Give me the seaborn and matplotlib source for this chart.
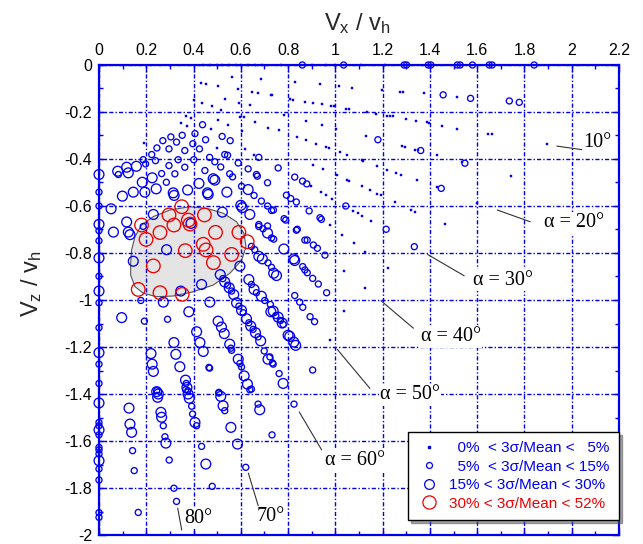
import matplotlib
matplotlib.use("Agg")
import matplotlib.pyplot as plt
from matplotlib.ticker import MultipleLocator, FuncFormatter
from matplotlib.patches import Polygon
from matplotlib.lines import Line2D
import pandas as pd
import seaborn as sns

# ---------------------------------------------------------------- data
# Normalised velocity components (Vx/vh, Vz/vh) grouped by 3-sigma/mean class

dots_x = [0.44, 0.47, 0.50, 0.52, 0.55, 0.58, 0.60, 0.63, 0.66, 0.69, 0.77, 0.90, 0.96, 1.00, 1.11, 1.21,
          0.561, 0.685, 0.431, 0.452, 0.504, 0.589, 0.649, 0.673, 0.727, 0.401, 0.434, 0.476, 0.532, 0.593,
          0.638, 0.518, 0.597, 0.614, 0.504, 0.546, 0.366, 0.389, 0.346, 0.372, 0.659, 0.715, 0.473, 0.603,
          0.192, 0.500, 0.617, 0.656,
          0.734, 0.828, 0.935, 1.015, 1.072, 1.199, 1.272, 1.287, 1.375, 0.807, 0.820, 0.870, 0.907, 0.945,
          0.980, 0.994, 1.044, 1.058, 1.135, 1.170, 1.217, 1.231, 1.242, 1.300, 1.342, 1.389, 1.397, 1.452,
          0.783, 0.762, 0.875, 0.942, 1.004, 0.839, 0.875, 0.917, 0.959, 0.973, 1.128, 1.020, 1.048, 1.280,
          1.294, 1.339, 1.349, 1.431, 0.907, 0.949, 1.114, 1.118, 1.175, 1.220, 1.255, 1.276, 1.008, 1.048,
          1.058, 1.111, 1.146, 1.175, 1.192, 1.346, 1.428, 0.896, 0.938, 0.959, 0.987, 1.251, 1.076, 1.096,
          1.114, 1.149, 1.318, 1.339, 0.977, 1.462,
          1.513, 1.647, 1.664, 1.513, 1.896, 1.741, 1.534, 1.600,
          1.224, 1.125, 1.038, 1.079, 1.125, 1.027, 1.038, 0.977]
dots_y = [0.0, 0.0, 0.0, 0.0, 0.0, 0.0, 0.0, 0.0, 0.0, 0.0, 0.0, 0.0, 0.0, 0.0, 0.0, 0.0,
          -0.049, -0.061, -0.078, -0.082, -0.089, -0.103, -0.114, -0.120, -0.129, -0.151, -0.160, -0.174,
          -0.145, -0.162, -0.172, -0.193, -0.222, -0.222, -0.236, -0.254, -0.215, -0.226, -0.247, -0.261,
          -0.242, -0.266, -0.273, -0.282, -0.332, -0.353, -0.357, -0.381,
          -0.127, -0.073, -0.082, -0.089, -0.097, -0.106, -0.114, -0.114, -0.120, -0.145, -0.148, -0.157,
          -0.161, -0.167, -0.174, -0.174, -0.186, -0.188, -0.202, -0.208, -0.216, -0.219, -0.219, -0.230,
          -0.237, -0.244, -0.247, -0.258, -0.212, -0.278, -0.237, -0.256, -0.271, -0.306, -0.318, -0.335,
          -0.350, -0.355, -0.304, -0.371, -0.384, -0.346, -0.349, -0.360, -0.363, -0.384, -0.424, -0.442,
          -0.403, -0.410, -0.428, -0.445, -0.459, -0.466, -0.470, -0.490, -0.493, -0.516, -0.534, -0.547,
          -0.555, -0.490, -0.520, -0.516, -0.541, -0.555, -0.572, -0.583, -0.621, -0.631, -0.643, -0.664,
          -0.617, -0.626, -0.682, -0.678,
          -0.135, -0.294, -0.295, -0.272, -0.338, -0.471, -0.411, -0.589,
          -0.862, -0.948, -0.875, -0.759, -0.794, -0.723, -1.045, -1.170]

small_x = [0.86, 1.035, 1.291, 1.301, 1.393, 1.404, 1.516, 1.528, 1.580, 1.651, 1.663, 1.841,
           0.438, 0.406, 0.352, 0.304, 0.270, 0.328, 0.451, 0.521, 0.555, 0.245, 0.296, 0.363, 0.397,
           0.425, 0.223, 0.187, 0.197, 0.239, 0.335, 0.401, 0.468, 0.490, 0.532, 0.544, 0.589, 0.676,
           0.296, 0.363, 0.265, 0.321, 0.448, 0.515, 0.553, 0.565, 0.631, 0.666, 0.670, 0.082, 0.285,
           0.713, 0.603, 0.656, 0.687, 0.713, 0.730, 0.676, 0.713,
           1.456, 1.180, 1.361, 0.758, 0.828, 0.861, 0.879, 1.448, 0.793, 0.811, 0.835, 0.738, 0.889,
           1.044, 0.783, 0.790, 0.935, 0.941, 0.839, 1.215,
           1.572, 1.736, 1.778, 1.548, 1.334,
           0.871, 0.881, 0.907, 0.924, 0.956, 0.862, 0.871, 0.881, 0.904, 0.928, 0.963, 0.862, 0.893,
           0.912, 0.904, 0.835, 0.739, 0.828, 0.849, 0.825,
           0.748, 0.768, 0.779, 0.723, 0.734, 0.762,
           0.187, 0.676, 0.694, 0.730, 0.645, 0.659, 0.715, 0.730, 0.177, 0.192, 0.290, 0.699, 0.737,
           0.645, 0.244, 0.507, 0.465, 0.468,
           0.524, 0.544, 0.561, 0.645, 0.666, 0.701, 0.725, 0.592, 0.610, 0.634, 0.652, 0.673, 0.558,
           0.561, 0.596, 0.603, 0.369, 0.376,
           0.366, 0.392, 0.396, 0.413, 0.507, 0.532,
           0.272, 0.279, 0.732, 0.638, 0.142, 0.434, 0.297, 0.149, 0.621, 0.317, 0.479, 0.328, 0.166,
           0.673,
           0.0, 0.0, 0.0, 0.0, 0.0, 0.0, 0.0, 0.0, 0.0, 0.0, 0.0, 0.0, 0.0, 0.0, 0.0, 0.0, 0.0, 0.0,
           0.0]
small_y = [0.0, 0.0, 0.0, 0.0, 0.0, 0.0, 0.0, 0.0, 0.0, 0.0, 0.0, 0.0,
           -0.254, -0.292, -0.299, -0.306, -0.322, -0.328, -0.318, -0.304, -0.322, -0.353, -0.357,
           -0.364, -0.335, -0.357, -0.381, -0.403, -0.421, -0.407, -0.403, -0.403, -0.393, -0.412,
           -0.381, -0.384, -0.417, -0.393, -0.428, -0.435, -0.462, -0.463, -0.449, -0.434, -0.463,
           -0.476, -0.442, -0.466, -0.473, -0.466, -0.499, -0.501, -0.516, -0.555, -0.579, -0.600,
           -0.619, -0.679, -0.685,
           -0.127, -0.318, -0.364, -0.438, -0.477, -0.494, -0.506, -0.525, -0.554, -0.568, -0.583,
           -0.617, -0.621, -0.600, -0.654, -0.660, -0.650, -0.657, -0.699, -0.699,
           -0.142, -0.153, -0.159, -0.418, -0.773,
           -0.745, -0.745, -0.766, -0.780, -0.809, -0.858, -0.872, -0.884, -0.908, -0.932, -0.969,
           -1.031, -1.071, -1.092, -1.298, -0.703, -0.741, -0.981, -1.009, -1.443,
           -1.066, -1.087, -1.104, -1.242, -1.268, -1.313,
           -0.687, -0.687, -0.697, -0.736, -0.772, -0.786, -0.842, -0.861, -1.002, -1.090, -1.082,
           -1.217, -1.273, -1.379, -1.386, -1.393, -1.287, -1.290,
           -0.909, -0.937, -0.962, -0.934, -0.969, -1.002, -1.019, -1.026, -1.054, -1.097, -1.125,
           -1.157, -1.205, -1.214, -1.270, -1.285, -1.355, -1.386,
           -1.382, -1.452, -1.485, -1.535, -1.396, -1.471,
           -1.535, -1.582, -1.574, -1.382, -1.641, -1.623, -1.681, -1.726, -1.712, -1.801, -1.793,
           -1.857, -1.904, -1.443,
           -0.541, -0.600, -0.705, -0.748, -0.899, -1.012, -1.118, -1.273, -1.355, -1.521, -1.535,
           -1.574, -1.627, -1.638, -1.655, -1.719, -1.766, -1.925, -1.905]

mid_x = [0.079, 0.117, 0.124, 0.158, 0.183, 0.225, 0.242, 0.194, 0.145, 0.099, 0.051, 0.314, 0.318,
         0.375, 0.423, 0.459, 0.462, 0.483, 0.490, 0.541, 0.631, 0.522, 0.600, 0.606, 0.638, 0.230,
         0.117, 0.389,
         0.782, 0.824, 0.828, 0.739, 0.751, 0.737, 0.758, 0.775, 0.800, 0.807, 0.824, 0.832, 0.779,
         0.061, 0.124, 0.131, 0.713, 0.286, 0.145, 0.596, 0.434, 0.346, 0.272, 0.469, 0.380, 0.096,
         0.727, 0.504, 0.518, 0.530, 0.413, 0.427, 0.441, 0.317, 0.220, 0.325, 0.715, 0.225, 0.230,
         0.342, 0.614, 0.628, 0.676, 0.691,
         0.513, 0.532, 0.551, 0.570, 0.634, 0.656, 0.687, 0.582, 0.603, 0.624, 0.642, 0.662, 0.684,
         0.553, 0.589, 0.366, 0.372,
         0.244, 0.251, 0.248, 0.127, 0.262, 0.265, 0.131, 0.138, 0.283, 0.558, 0.586, 0.452, 0.680,
         0.377, 0.382, 0.406, 0.515, 0.525,
         0.0, 0.0, 0.0, 0.0, 0.0, 0.0, 0.0, 0.0]
mid_y = [-0.452, -0.435, -0.459, -0.431, -0.499, -0.480, -0.527, -0.541, -0.541, -0.558, -0.612,
         -0.544, -0.555, -0.532, -0.504, -0.544, -0.551, -0.484, -0.490, -0.541, -0.530, -0.626,
         -0.597, -0.607, -0.636, -0.636, -0.668, -0.674,
         -0.783, -0.825, -0.832, -0.886, -0.896, -1.047, -1.073, -1.098, -1.150, -1.155, -1.179,
         -1.193, -1.355,
         -0.711, -0.711, -0.722, -0.715, -0.786, -0.835, -0.856, -0.934, -0.962, -1.009, -1.009,
         -1.050, -1.075, -1.050, -1.090, -1.115, -1.143, -1.135, -1.181, -1.219, -1.181, -1.228,
         -1.231, -1.252, -1.273, -1.304, -1.284, -1.323, -1.358, -0.814, -0.825,
         -0.892, -0.923, -0.948, -0.977, -0.913, -0.955, -0.984, -1.012, -1.044, -1.080, -1.111,
         -1.139, -1.174, -1.188, -1.252, -1.341, -1.372,
         -1.390, -1.400, -1.414, -1.460, -1.478, -1.499, -1.528, -1.563, -1.609, -1.542, -1.613,
         -1.698, -1.467, -1.400, -1.418, -1.521, -1.410, -1.450,
         -0.466, -0.678, -0.821, -0.962, -1.224, -1.438, -1.553, -1.684]

red_x = [0.180, 0.199, 0.258, 0.296, 0.317, 0.350, 0.378, 0.385, 0.446, 0.493, 0.441, 0.453, 0.365,
         0.230, 0.484, 0.561, 0.592, 0.627, 0.166, 0.258, 0.352]
red_y = [-0.681, -0.742, -0.713, -0.638, -0.681, -0.603, -0.660, -0.677, -0.638, -0.712, -0.763,
         -0.787, -0.790, -0.855, -0.841, -0.806, -0.712, -0.752, -0.955, -0.969, -0.976]

# outline of the shaded high-scatter zone
zone_x = [0.134, 0.138, 0.152, 0.180, 0.230, 0.300, 0.385, 0.456, 0.526, 0.582, 0.613, 0.622,
          0.604, 0.554, 0.484, 0.399, 0.314, 0.244, 0.187, 0.152, 0.134]
zone_y = [-0.844, -0.787, -0.731, -0.681, -0.645, -0.617, -0.603, -0.610, -0.631, -0.667, -0.716,
          -0.773, -0.830, -0.886, -0.936, -0.965, -0.983, -0.986, -0.971, -0.943, -0.894]

legend_labels = ["  0%  < 3\u03c3/Mean <   5%",
                 "  5%  < 3\u03c3/Mean < 15%",
                 "15% < 3\u03c3/Mean < 30%",
                 "30% < 3\u03c3/Mean < 52%"]

# angle labels: text, text centre, leader line end points
ray_labels = ["10\u00b0", "\u03b1 = 20\u00b0", "\u03b1 = 30\u00b0", "\u03b1 = 40\u00b0",
              "\u03b1 = 50\u00b0", "\u03b1 = 60\u00b0", "70\u00b0", "80\u00b0"]
ray_text_x = [2.11, 2.009, 1.709, 1.489, 1.316, 1.083, 0.728, 0.419]
ray_text_y = [-0.328, -0.672, -0.915, -1.157, -1.404, -1.681, -1.923, -1.928]
lead_x0 = [1.937, 1.685, 1.390, 1.193, 1.008, 0.847, 0.632, 0.333]
lead_y0 = [-0.345, -0.617, -0.806, -1.003, -1.210, -1.476, -1.737, -1.886]
lead_x1 = [2.111, 1.824, 1.545, 1.330, 1.146, 0.942, 0.674, 0.350]
lead_y1 = [-0.370, -0.667, -0.897, -1.120, -1.376, -1.638, -1.877, -1.979]

# ---------------------------------------------------------------- style
sns.set_theme(style="white")
plt.rcParams["font.family"] = ["Liberation Sans", "DejaVu Sans"]
plt.rcParams["axes.unicode_minus"] = False
plt.rcParams["mathtext.fontset"] = "custom"
plt.rcParams["mathtext.rm"] = "Liberation Sans"
plt.rcParams["mathtext.it"] = "Liberation Sans"

BLUE = "#0000ee"
RED = "#ee0000"

fig = plt.figure(figsize=(6.43, 5.44), dpi=100)
ax = fig.add_axes([99 / 643, 9 / 544, 520 / 643, 470 / 544])

df = pd.concat([
    pd.DataFrame({"vx": dots_x, "vz": dots_y, "cls": "dot"}),
    pd.DataFrame({"vx": small_x, "vz": small_y, "cls": "small"}),
    pd.DataFrame({"vx": mid_x, "vz": mid_y, "cls": "mid"}),
    pd.DataFrame({"vx": red_x, "vz": red_y, "cls": "red"}),
], ignore_index=True)

# shaded zone
ax.add_patch(Polygon(list(zip(zone_x, zone_y)), closed=True, facecolor="#e4e4e4",
                     edgecolor="#555555", linewidth=0.8, zorder=1))

sns.scatterplot(data=df[df.cls == "dot"], x="vx", y="vz", ax=ax, marker="s", s=2.6,
                color=BLUE, edgecolor=BLUE, linewidth=0.3, clip_on=False, zorder=3, legend=False)
for cls, col, s in [("small", BLUE, 19), ("mid", BLUE, 50), ("red", RED, 95)]:
    sns.scatterplot(data=df[df.cls == cls], x="vx", y="vz", ax=ax, marker="o", s=s,
                    color=col, facecolor="none", edgecolor=col, linewidth=0.95,
                    clip_on=False, zorder=3, legend=False)

# axes, ticks, grid
ax.set_xlim(0, 2.2)
ax.set_ylim(-2, 0)
ax.xaxis.set_major_locator(MultipleLocator(0.2))
ax.xaxis.set_minor_locator(MultipleLocator(0.1))
ax.yaxis.set_major_locator(MultipleLocator(0.2))
ax.yaxis.set_minor_locator(MultipleLocator(0.1))
fmt = FuncFormatter(lambda v, p: "%g" % round(v, 3))
ax.xaxis.set_major_formatter(fmt)
ax.yaxis.set_major_formatter(fmt)
ax.xaxis.tick_top()
ax.tick_params(which="both", direction="in", color=BLUE, top=True, bottom=True,
               left=True, right=True, labeltop=True, labelbottom=False,
               labelsize=11.5, labelcolor="black", pad=5)
ax.tick_params(which="major", length=5, width=1.0)
ax.tick_params(which="minor", length=3, width=1.0)
ax.set_axisbelow("line")
ax.grid(True, which="major", color=BLUE, linewidth=1.0,
        linestyle=(0, (3, 1.5, 1, 1.5)), zorder=1.5)
for sp in ax.spines.values():
    sp.set_color(BLUE)
    sp.set_linewidth(1.6)

ax.set_xlabel(r"$\mathregular{V_x\ /\ v_h}$", fontsize=17)
ax.xaxis.set_label_position("top")
ax.xaxis.set_label_coords(0.497, 1.074)
ax.set_ylabel(r"$\mathregular{V_z\ /\ v_h}$", fontsize=17)
ax.yaxis.set_label_coords(-0.105, 0.534)

# angle labels with leader lines
for i, lab in enumerate(ray_labels):
    ax.plot([lead_x0[i], lead_x1[i]], [lead_y0[i], lead_y1[i]], color="#333333",
            linewidth=0.8, zorder=2)
    ax.text(ray_text_x[i], ray_text_y[i], lab, ha="center", va="center", fontsize=14.5,
            family=["Liberation Serif", "DejaVu Serif"], color="black", zorder=4,
            bbox=dict(facecolor="white", edgecolor="none", pad=1.0))

# legend
handles = [
    Line2D([], [], marker="s", ms=1.6, color=BLUE, ls="none"),
    Line2D([], [], marker="o", ms=4.3, mfc="none", mec=BLUE, mew=0.9, ls="none"),
    Line2D([], [], marker="o", ms=7.0, mfc="none", mec=BLUE, mew=0.9, ls="none"),
    Line2D([], [], marker="o", ms=9.5, mfc="none", mec=RED, mew=0.9, ls="none"),
]
leg = ax.legend(handles, legend_labels, loc="lower right", bbox_to_anchor=(1.0, 0.032),
                borderaxespad=0, fontsize=11, labelspacing=0.3, handletextpad=0.6,
                handlelength=1.5, borderpad=0.6, frameon=True, fancybox=False, shadow=True,
                edgecolor="black", framealpha=1, labelcolor=[BLUE, BLUE, BLUE, RED])
leg.get_frame().set_linewidth(1.0)
leg.set_zorder(5)

fig.savefig("out.png", dpi=100)
